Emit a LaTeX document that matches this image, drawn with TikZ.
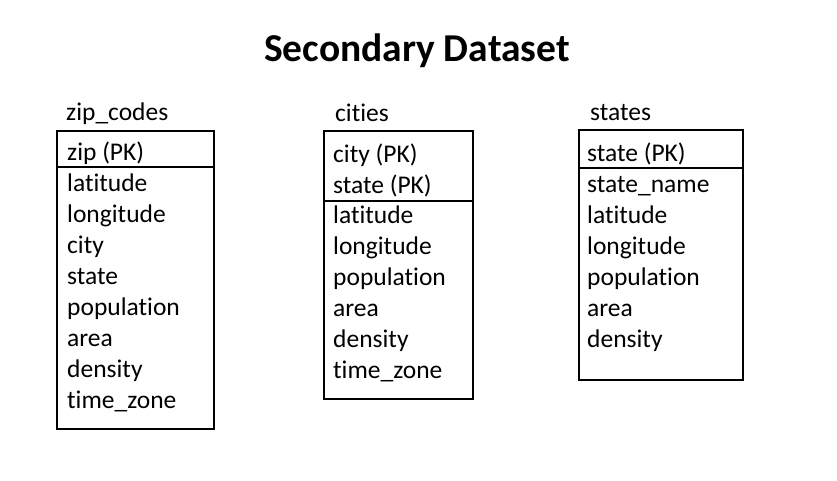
\documentclass[tikz,border=0pt]{standalone}
\usepackage{fontspec}
\setmainfont{Carlito}[Ligatures=NoCommon]
\usepackage{tikz}

\begin{document}
\begin{tikzpicture}[x=1pt, y=-1pt,
    field/.style={anchor=base west, inner sep=0pt, font=\fontsize{25.5}{30}\selectfont},
    tablename/.style={anchor=base west, inner sep=0pt, font=\fontsize{25.5}{30}\selectfont},
    heading/.style={anchor=base, inner sep=0pt, font=\fontsize{39.5}{46}\selectfont\bfseries},
    tablebox/.style={line width=1.6pt}]
    \useasboundingbox[fill=white] (0, 0) rectangle (837, 480);

    % Title
    \node[heading] (title) at (417, 61) {Secondary Dataset};

    % Draw the tables
    \draw[tablebox] (57, 131) rectangle (214, 429);
    \draw[tablebox] (57, 167) -- (214, 167);
    \draw[tablebox] (324, 131) rectangle (473, 399);
    \draw[tablebox] (324, 201) -- (473, 201);
    \draw[tablebox] (579, 130) rectangle (743, 380);
    \draw[tablebox] (579, 168) -- (743, 168);

    % Labels: zip_codes
    \node[tablename] (zipname) at (66, 120) {zip\_codes};
    \node[field] (zip) at (67, 160) {zip (PK)};
    \node[field] (ziplat) at (67, 191) {latitude};
    \node[field] (ziplon) at (67, 222) {longitude};
    \node[field] (zipcity) at (67, 253) {city};
    \node[field] (zipstate) at (67, 284) {state};
    \node[field] (zippop) at (67, 315) {population};
    \node[field] (ziparea) at (67, 346) {area};
    \node[field] (zipdens) at (67, 377) {density};
    \node[field] (ziptz) at (67, 408) {time\_zone};

    % Labels: cities
    \node[tablename] (cityname) at (335, 121) {cities};
    \node[field] (city) at (333, 162) {city (PK)};
    \node[field] (citystate) at (333, 193) {state (PK)};
    \node[field] (citylat) at (333, 223) {latitude};
    \node[field] (citylon) at (333, 254) {longitude};
    \node[field] (citypop) at (333, 285) {population};
    \node[field] (cityarea) at (333, 316) {area};
    \node[field] (citydens) at (333, 347) {density};
    \node[field] (citytz) at (333, 378) {time\_zone};

    % Labels: states
    \node[tablename] (statename) at (590, 120) {states};
    \node[field] (state) at (587, 161) {state (PK)};
    \node[field] (statefull) at (587, 192) {state\_name};
    \node[field] (statelat) at (587, 223) {latitude};
    \node[field] (statelon) at (587, 254) {longitude};
    \node[field] (statepop) at (587, 285) {population};
    \node[field] (statearea) at (587, 316) {area};
    \node[field] (statedens) at (587, 347) {density};
\end{tikzpicture}
\end{document}
